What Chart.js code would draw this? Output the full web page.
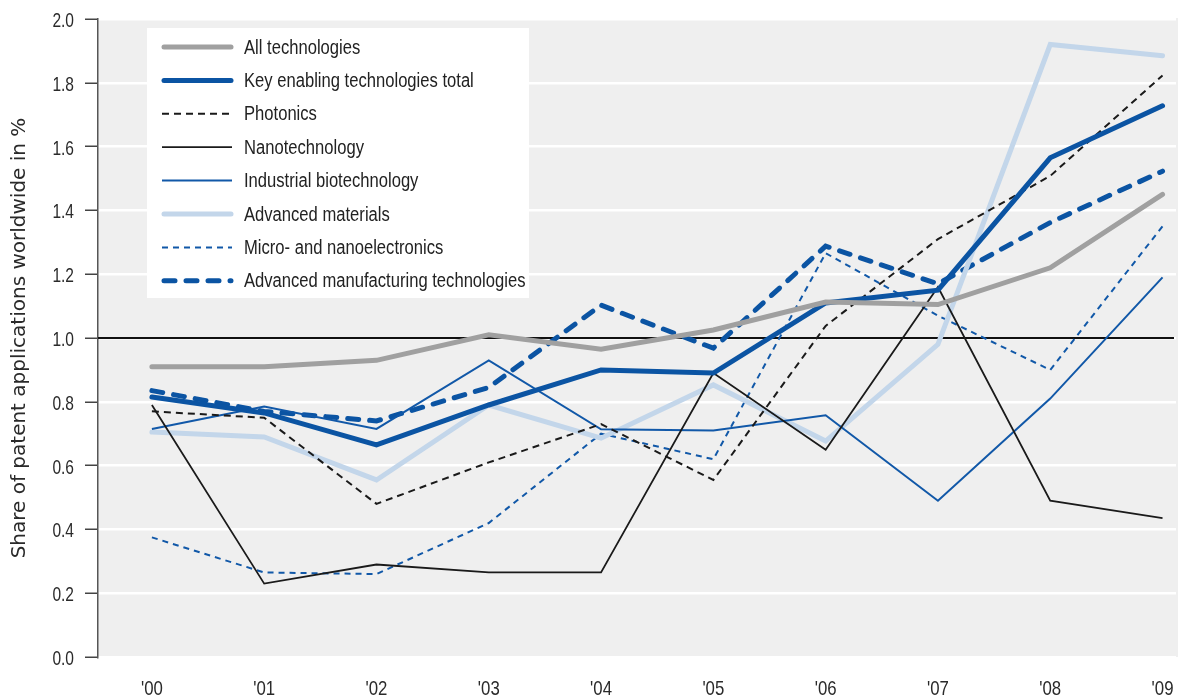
<!DOCTYPE html>
<html>
<head>
<meta charset="utf-8">
<script src="https://cdn.jsdelivr.net/npm/chart.js@4.4.1/dist/chart.umd.min.js"></script>
<style>
  html, body { margin: 0; padding: 0; background: #fff; }
  #wrap { width: 1178px; height: 697px; }
</style>
</head>
<body>
<div id="wrap"><canvas id="patents"></canvas></div>
<script>
var years = ["'00", "'01", "'02", "'03", "'04", "'05", "'06", "'07", "'08", "'09"];
var yTicks = [0, 0.2, 0.4, 0.6, 0.8, 1.0, 1.2, 1.4, 1.6, 1.8, 2.0];

var allTech      = [0.91, 0.91, 0.93, 1.01, 0.965, 1.025, 1.113, 1.105, 1.22, 1.45];
var ketTotal     = [0.815, 0.765, 0.665, 0.79, 0.90, 0.89, 1.11, 1.15, 1.565, 1.728];
var photonics    = [0.77, 0.75, 0.48, 0.61, 0.73, 0.555, 1.038, 1.31, 1.508, 1.823];
var nanotech     = [0.79, 0.23, 0.29, 0.265, 0.265, 0.89, 0.65, 1.16, 0.49, 0.435];
var biotech      = [0.715, 0.785, 0.715, 0.93, 0.714, 0.71, 0.758, 0.49, 0.81, 1.19];
var materials    = [0.705, 0.69, 0.555, 0.79, 0.686, 0.853, 0.677, 0.98, 1.92, 1.885];
var electronics  = [0.375, 0.265, 0.26, 0.42, 0.70, 0.62, 1.266, 1.07, 0.90, 1.35];
var manufacturing = [0.835, 0.77, 0.74, 0.845, 1.103, 0.968, 1.288, 1.17, 1.362, 1.523];

// Arial-like face squeezed horizontally, close to a narrow grotesque
var labelFont = "'Liberation Sans', Arial, sans-serif";

function series(label, data, color, width, dash, cap) {
  return {
    label: label,
    data: data.map(function(v, i) { return { x: i, y: v }; }),
    borderColor: color,
    backgroundColor: color,
    borderWidth: width,
    borderDash: dash || [],
    borderCapStyle: cap || 'butt',
    borderJoinStyle: 'miter',
    pointRadius: 0,
    tension: 0,
    fill: false
  };
}

var datasets = [
  series('All technologies', allTech, '#a0a0a0', 5, null, 'round'),
  series('Key enabling technologies total', ketTotal, '#0b54a3', 5, null, 'round'),
  series('Photonics', photonics, '#1a1a1a', 2, [7, 5]),
  series('Nanotechnology', nanotech, '#1a1a1a', 1.8),
  series('Industrial biotechnology', biotech, '#1158a8', 2),
  series('Advanced materials', materials, '#c3d6ea', 5, null, 'round'),
  series('Micro- and nanoelectronics', electronics, '#1158a8', 2, [6, 5]),
  series('Advanced manufacturing technologies', manufacturing, '#0b54a3', 5, [11, 11], 'round')
];

function narrowText(ctx, text, x, y, sx) {
  ctx.save();
  ctx.translate(x, y);
  ctx.scale(sx, 1);
  ctx.fillText(text, 0, 0);
  ctx.restore();
}

// grey plot background + black reference line at 1.0
var plotBack = {
  id: 'plotBack',
  beforeDraw: function(chart) {
    var a = chart.chartArea, ctx = chart.ctx;
    ctx.save();
    ctx.fillStyle = '#efefef';
    ctx.fillRect(a.left, a.top - 1, chart.width - a.left, a.bottom - a.top + 1);
    ctx.restore();
  },
  beforeDatasetsDraw: function(chart) {
    var a = chart.chartArea, ctx = chart.ctx;
    var y = chart.scales.y.getPixelForValue(1.0);
    ctx.save();
    ctx.strokeStyle = '#111';
    ctx.lineWidth = 2;
    ctx.beginPath();
    ctx.moveTo(a.left, y);
    ctx.lineTo(a.right - 2, y);
    ctx.stroke();
    ctx.restore();
  }
};

// tick labels in narrow type, placed by the scales
var narrowTicks = {
  id: 'narrowTicks',
  afterDraw: function(chart) {
    var ctx = chart.ctx, xs = chart.scales.x, ys = chart.scales.y;
    ctx.save();
    ctx.fillStyle = '#2a2a2a';
    ctx.font = '21px ' + labelFont;
    ctx.textBaseline = 'alphabetic';
    ys.ticks.forEach(function(t) {
      ctx.textAlign = 'right';
      narrowText(ctx, t.value.toFixed(1), 74, ys.getPixelForValue(t.value) + 8, 0.74);
    });
    xs.ticks.forEach(function(t) {
      ctx.textAlign = 'center';
      narrowText(ctx, years[t.value], xs.getPixelForValue(t.value), 695, 0.8);
    });
    ctx.restore();
  }
};

// legend box inside the plot, drawn from the dataset styles
var boxLegend = {
  id: 'boxLegend',
  afterDraw: function(chart) {
    var ctx = chart.ctx;
    ctx.save();
    ctx.fillStyle = '#ffffff';
    ctx.fillRect(147, 28, 382, 270);
    ctx.font = '20px ' + labelFont;
    ctx.textBaseline = 'middle';
    ctx.textAlign = 'left';
    chart.data.datasets.forEach(function(ds, i) {
      var y = 47 + i * 33.4;
      ctx.strokeStyle = ds.borderColor;
      ctx.lineWidth = ds.borderWidth;
      ctx.lineCap = ds.borderCapStyle;
      ctx.setLineDash(ds.borderDash);
      ctx.beginPath();
      ctx.moveTo(ds.borderWidth > 3 ? 164 : 162, y);
      ctx.lineTo(ds.borderWidth > 3 ? 231 : 232, y);
      ctx.stroke();
      ctx.setLineDash([]);
      ctx.fillStyle = '#222';
      narrowText(ctx, ds.label, 244, y + 1, 0.83);
    });
    ctx.restore();
  }
};

new Chart(document.getElementById('patents').getContext('2d'), {
  type: 'line',
  data: { datasets: datasets },
  plugins: [plotBack, narrowTicks, boxLegend],
  options: {
    responsive: true,
    maintainAspectRatio: false,
    animation: false,
    layout: { padding: { top: 19, right: 2, left: 0, bottom: 0 } },
    plugins: {
      legend: { display: false },
      tooltip: { enabled: false }
    },
    scales: {
      x: {
        type: 'linear',
        min: -0.48,
        max: 9.12,
        afterFit: function(scale) { scale.height = 40; },
        afterBuildTicks: function(scale) {
          scale.ticks = years.map(function(y, i) { return { value: i }; });
        },
        ticks: { display: false },
        grid: { display: false, drawTicks: false },
        border: { display: false }
      },
      y: {
        min: 0,
        max: 2,
        afterFit: function(scale) { scale.width = 98; },
        afterBuildTicks: function(scale) {
          scale.ticks = yTicks.map(function(v) { return { value: v }; });
        },
        ticks: { display: false },
        grid: {
          color: '#ffffff',
          lineWidth: 2.5,
          tickColor: '#444',
          tickLength: 13,
          tickWidth: 1.5
        },
        border: { display: true, color: '#555', width: 1.5 },
        title: {
          display: true,
          text: 'Share of patent applications worldwide in %',
          color: '#2a2a2a',
          font: { family: "'DejaVu Sans', sans-serif", size: 20 },
          padding: { top: 8, bottom: 4 }
        }
      }
    }
  }
});
</script>
</body>
</html>
